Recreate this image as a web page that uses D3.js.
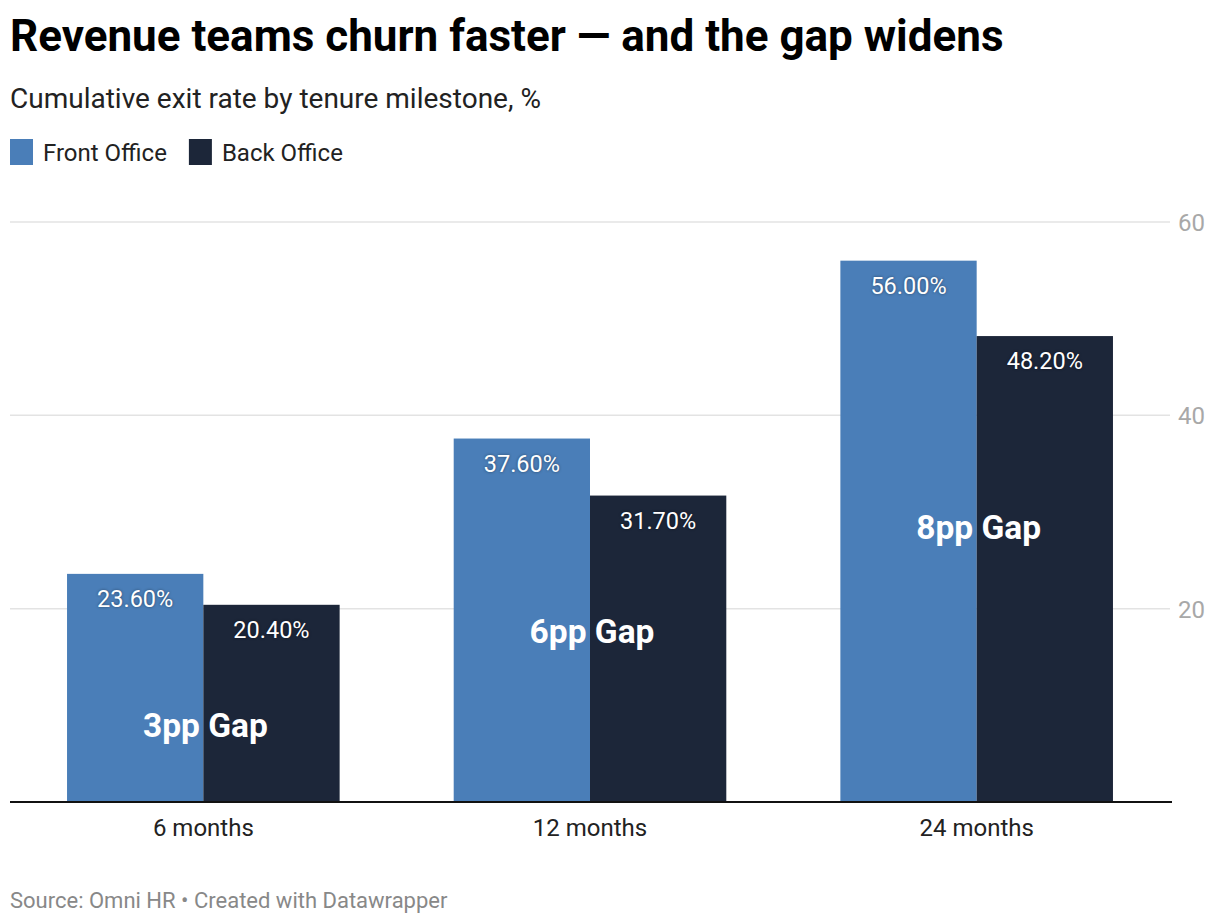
<!DOCTYPE html>
<html>
<head>
<meta charset="utf-8">
<script src="https://cdn.jsdelivr.net/npm/d3@7"></script>
<style>
  html, body { margin: 0; padding: 0; background: #fff; }
  svg { display: block; font-family: Roboto, "Noto Sans", sans-serif; }
  .val { text-shadow: 0 0 3px rgba(0,0,0,0.45); }
</style>
</head>
<body>
<svg id="chart" width="1220" height="924"></svg>
<script>
const categories = ["6 months", "12 months", "24 months"];
const seriesNames = ["Front Office", "Back Office"];
const frontOffice = [23.6, 37.6, 56.0];
const backOffice = [20.4, 31.7, 48.2];
const gapLabels = ["3pp Gap", "6pp Gap", "8pp Gap"];
const gapLabelY = [8, 17.7, 28.5];
const yTicks = [20, 40, 60];
const colors = ["#4a7eb8", "#1c2639"];

(function () {
const svg = d3.select("#chart");
const mLeft = 10, mRight = 1170, mTop = 222, mBottom = 802;

// Title, subtitle
svg.append("text").attr("x", 10).attr("y", 51)
  .attr("font-size", 44).attr("font-weight", 700).attr("fill", "#000")
  .text("Revenue teams churn faster \u2014 and the gap widens");
svg.append("text").attr("x", 10).attr("y", 108)
  .attr("font-size", 28).attr("fill", "#222")
  .text("Cumulative exit rate by tenure milestone, %");

// Legend
const legend = svg.append("g");
let lx = 10;
seriesNames.forEach((name, i) => {
  const g = legend.append("g").attr("transform", `translate(${lx},139)`);
  g.append("rect").attr("width", 23).attr("height", 26).attr("fill", colors[i]);
  const t = g.append("text").attr("x", 33).attr("y", 21.5).attr("font-size", 24).attr("fill", "#222").text(name);
  lx += 33 + t.node().getComputedTextLength() + 22;
});

const x = d3.scaleBand().domain(categories).range([mLeft, mRight]).paddingInner(0.295).paddingOuter(0.1475);
const xs = d3.scaleBand().domain(seriesNames).range([0, x.bandwidth()]);
const y = d3.scaleLinear().domain([0, 60]).range([mBottom, mTop]);

// Gridlines
svg.append("g").selectAll("line").data(yTicks).join("line")
  .attr("x1", mLeft).attr("x2", mRight)
  .attr("y1", d => y(d)).attr("y2", d => y(d))
  .attr("stroke", "#e3e3e3").attr("stroke-width", 1.5);

// Y axis labels (right)
const yAxis = d3.axisRight(y).tickValues(yTicks).tickSize(0).tickPadding(0);
const ya = svg.append("g").attr("transform", `translate(${mRight + 8},0)`).call(yAxis);
ya.select(".domain").remove();
ya.selectAll("text").attr("font-size", 24).attr("fill", "#a8a8a8").attr("font-family", "Roboto, sans-serif").attr("dy", "0.35em");

// Bars
const data = categories.map((c, i) => ({ cat: c, vals: [frontOffice[i], backOffice[i]] }));
const groups = svg.append("g").selectAll("g").data(data).join("g")
  .attr("transform", d => `translate(${x(d.cat)},0)`);
groups.selectAll("rect").data(d => d.vals.map((v, j) => ({ v, s: seriesNames[j], j }))).join("rect")
  .attr("x", d => xs(d.s)).attr("width", xs.bandwidth())
  .attr("y", d => y(d.v)).attr("height", d => y(0) - y(d.v))
  .attr("fill", d => colors[d.j]);
groups.selectAll("text.val").data(d => d.vals.map((v, j) => ({ v, s: seriesNames[j], j }))).join("text")
  .attr("class", "val")
  .attr("x", d => xs(d.s) + xs.bandwidth() / 2).attr("y", d => y(d.v) + 33)
  .attr("text-anchor", "middle").attr("font-size", 23.5).attr("fill", "#fff")
  .text(d => d.v.toFixed(2) + "%");

// Gap annotations
svg.append("g").selectAll("text").data(categories).join("text")
  .attr("x", d => x(d) + x.bandwidth() / 2 + 2)
  .attr("y", (d, i) => y(gapLabelY[i]))
  .attr("dy", "0.36em")
  .attr("text-anchor", "middle").attr("font-size", 33.5).attr("font-weight", 700).attr("fill", "#fff")
  .text((d, i) => gapLabels[i]);

// Baseline
svg.append("line").attr("x1", mLeft).attr("x2", mRight + 2).attr("y1", y(0)).attr("y2", y(0))
  .attr("stroke", "#111").attr("stroke-width", 2);

// X axis labels
const xAxis = d3.axisBottom(x).tickSize(0).tickPadding(0);
const xa = svg.append("g").attr("transform", `translate(0,${mBottom + 34})`).call(xAxis);
xa.select(".domain").remove();
xa.selectAll("text").attr("font-size", 24).attr("fill", "#222").attr("font-family", "Roboto, sans-serif").attr("dy", 0);

// Footer
svg.append("text").attr("x", 10).attr("y", 908).attr("font-size", 22).attr("fill", "#888")
  .text("Source: Omni HR \u2022 Created with Datawrapper");
})();
</script>
</body>
</html>
